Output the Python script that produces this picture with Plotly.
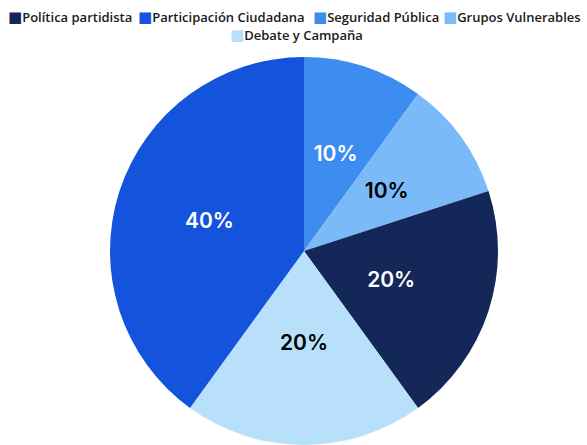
import plotly.graph_objects as go

# Slices in clockwise order starting at 12 o'clock
slice_labels = ["Seguridad Pública", "Grupos Vulnerables", "Política partidista", "Debate y Campaña", "Participación Ciudadana"]
slice_values = [10, 10, 20, 20, 40]

# Legend order as shown in the reference
legend_labels = ["Política partidista", "Participación Ciudadana", "Seguridad Pública", "Grupos Vulnerables", "Debate y Campaña"]

colors = {
    "Política partidista": "#132858",
    "Participación Ciudadana": "#1453dc",
    "Seguridad Pública": "#3d8cef",
    "Grupos Vulnerables": "#7bbaf8",
    "Debate y Campaña": "#b9e0fb",
}
text_colors = {
    "Política partidista": "white",
    "Participación Ciudadana": "white",
    "Seguridad Pública": "white",
    "Grupos Vulnerables": "black",
    "Debate y Campaña": "black",
}

W, H = 587, 445
T = 57
AREA_H = H - T
R = AREA_H / 2          # main pie radius in px
CX = 304 / W            # pie center (fraction of width)


def dom(k):
    r = k * R
    return dict(x=[CX - r / W, CX + r / W], y=[0.5 - k * 0.5, 0.5 + k * 0.5])


fig = go.Figure()

# main pie (colors) + label of the largest slice
fig.add_trace(go.Pie(
    labels=slice_labels, values=slice_values,
    sort=False, direction="clockwise", rotation=0,
    marker=dict(colors=[colors[l] for l in slice_labels], line=dict(width=0)),
    texttemplate=["%{percent:.0%}" if v >= 40 else "" for v in slice_values],
    textposition="inside", insidetextorientation="horizontal",
    insidetextfont=dict(family="Inter", size=21, color=[text_colors[l] for l in slice_labels], weight=600),
    domain=dom(1.0), showlegend=False, hoverinfo="label+percent",
))

# transparent overlay pies to place the smaller labels nearer the centre
for k, target in [(0.69, 10), (0.75, 20)]:
    fig.add_trace(go.Pie(
        labels=slice_labels, values=slice_values,
        sort=False, direction="clockwise", rotation=0,
        marker=dict(colors=["rgba(0,0,0,0)"] * len(slice_labels), line=dict(width=0)),
        texttemplate=["%{percent:.0%}" if v == target else "" for v in slice_values],
        textposition="inside", insidetextorientation="horizontal",
        insidetextfont=dict(family="Inter", size=21, color=[text_colors[l] for l in slice_labels], weight=600),
        domain=dom(k), showlegend=False, hoverinfo="skip",
    ))

# legend: one legend per entry so entries sit tightly as in the reference
legend_left = [-32, 98, 273, 403, 190]
legend_row_y = [17, 17, 17, 17, 35]
layout_legends = {}
for i, lab in enumerate(legend_labels):
    key = "legend" if i == 0 else f"legend{i + 1}"
    fig.add_trace(go.Scatter(
        x=[None], y=[None], mode="markers",
        name=f'<span style="color:{colors[lab]};font-family:DejaVu Sans;font-size:15px">■</span>{lab}',
        marker=dict(symbol="square", size=1, color="rgba(0,0,0,0)"),
        showlegend=True, legend=key,
    ))
    layout_legends[key] = dict(
        xref="paper", yref="container",
        x=legend_left[i] / W, xanchor="left",
        y=1 - legend_row_y[i] / H, yanchor="middle",
        font=dict(family="Open Sans", size=13, color="#1a1a1a", weight=600),
        bgcolor="rgba(0,0,0,0)", borderwidth=0,
    )

fig.update_layout(
    width=W, height=H,
    margin=dict(l=0, r=0, t=T, b=0, autoexpand=False),
    paper_bgcolor="white", plot_bgcolor="white",
    xaxis=dict(visible=False), yaxis=dict(visible=False),
    **layout_legends,
)

fig.write_html("out.html")
